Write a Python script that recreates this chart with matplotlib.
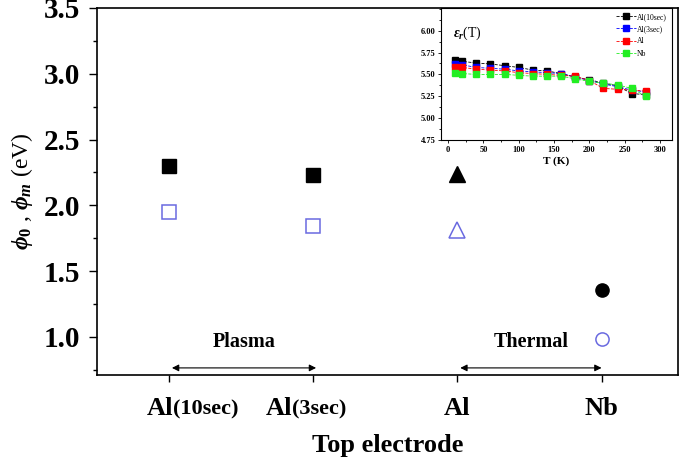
import matplotlib
matplotlib.use("Agg")
import matplotlib.pyplot as plt
from matplotlib.ticker import MultipleLocator

plt.rcParams["font.family"] = ["Liberation Serif", "DejaVu Serif"]
plt.rcParams["mathtext.fontset"] = "custom"
plt.rcParams["mathtext.rm"] = "Liberation Serif:bold"
plt.rcParams["mathtext.it"] = "Liberation Serif:italic:bold"
plt.rcParams["mathtext.bf"] = "Liberation Serif:bold"
plt.rcParams["mathtext.fallback"] = "stix"

# main panel: barrier heights per top electrode
electrodes = ["Al", "Al", "Al", "Nb"]
suffixes = ["(10sec)", "(3sec)", "", ""]
phi0 = [2.30, 2.23, 2.24, 1.36]
phim = [1.95, 1.84, 1.81, 0.98]
markers = ["s", "s", "^", "o"]

# inset: eps_r(T)
temps = [10, 20, 40, 60, 80, 100, 120, 140, 160, 180, 200, 220, 240, 260, 280]
eps_al10 = [5.66, 5.65, 5.63, 5.62, 5.60, 5.58, 5.55, 5.54, 5.51, 5.47, 5.44, 5.40, 5.37, 5.28, 5.27]
eps_al3 = [5.62, 5.61, 5.58, 5.57, 5.56, 5.54, 5.53, 5.52, 5.51, 5.47, 5.43, 5.39, 5.36, 5.32, 5.30]
eps_al = [5.59, 5.58, 5.56, 5.55, 5.54, 5.52, 5.51, 5.50, 5.49, 5.48, 5.43, 5.34, 5.33, 5.32, 5.31]
eps_nb = [5.52, 5.51, 5.50, 5.50, 5.50, 5.49, 5.48, 5.48, 5.48, 5.45, 5.42, 5.40, 5.38, 5.34, 5.25]
inset_series = [("Al(10sec)", eps_al10, "black"), ("Al(3sec)", eps_al3, "blue"),
                ("Al", eps_al, "red"), ("Nb", eps_nb, "#22ee22")]

fig = plt.figure(figsize=(6.8, 4.57), dpi=100)
ax = fig.add_axes([0.1426, 0.1794, 0.8544, 0.8031])

xs = range(1, len(electrodes) + 1)
for x, p0, pm, mk in zip(xs, phi0, phim, markers):
    ms = 11 if mk == "^" else 9.5
    ax.plot(x, p0, mk, ms=ms, color="black")
    ax.plot(x, pm, mk, ms=ms, mfc="white", mec="#6a6ae0", mew=1.1)

ax.set_xlim(0.5, 4.53)
ax.set_ylim(0.71, 3.5)
ax.yaxis.set_major_locator(MultipleLocator(0.5))
ax.yaxis.set_minor_locator(MultipleLocator(0.25))
ax.yaxis.set_major_formatter(matplotlib.ticker.FormatStrFormatter("%.1f"))
ax.set_xticks(list(xs))
ax.set_xticklabels([""] * len(electrodes))
ax.tick_params(axis="y", which="major", length=6, width=1, labelsize=21, pad=6)
ax.tick_params(axis="y", which="minor", length=3, width=1)
ax.tick_params(axis="x", length=5, width=1)
for lab in ax.get_yticklabels():
    lab.set_fontweight("bold")
for s in ax.spines.values():
    s.set_linewidth(1.2)

# two-size tick labels, e.g. "Al" + "(10sec)"
split_off = [3, -15, 0, 0]
for x, el, suf, off in zip(xs, electrodes, suffixes, split_off):
    if suf:
        ax.annotate(el, (x, 0), xycoords=("data", "axes fraction"),
                    xytext=(off, -16), textcoords="offset points",
                    ha="right", va="top", fontsize=19, fontweight="bold")
        ax.annotate(suf, (x, 0), xycoords=("data", "axes fraction"),
                    xytext=(off, -17.5), textcoords="offset points",
                    ha="left", va="top", fontsize=16, fontweight="bold")
    else:
        ax.annotate(el, (x, 0), xycoords=("data", "axes fraction"),
                    xytext=(0, -16), textcoords="offset points",
                    ha="center", va="top", fontsize=19, fontweight="bold")

ax.set_xlabel("Top electrode", fontsize=19, fontweight="bold", labelpad=34)
ax.set_ylabel(r"$\phi_0$ , $\phi_m$ (eV)", fontsize=17, labelpad=6)

# deposition groups
for (x0, x1), lab in [((1.02, 2.02), "Plasma"), ((3.02, 4.0), "Thermal")]:
    ax.annotate("", xy=(x1, 0.764), xytext=(x0, 0.764),
                arrowprops=dict(arrowstyle="<|-|>", color="black", lw=0.8,
                                mutation_scale=10, shrinkA=0, shrinkB=0))
    ax.text((x0 + x1) / 2, 0.96, lab, ha="center", va="center",
            fontsize=14.5, fontweight="bold")

# inset
ins = fig.add_axes([0.6485, 0.6937, 0.3397, 0.2888])
for lab, ys, col in inset_series:
    ins.plot(temps, ys, "--", color=col, lw=0.6, marker="s", ms=4,
             mfc=col, mec=col, label=lab)
ins.set_xlim(-10, 317)
ins.set_ylim(4.75, 6.26)
ins.set_xticks(range(0, 301, 50))
ins.set_yticks([4.75, 5.00, 5.25, 5.50, 5.75, 6.00])
ins.yaxis.set_major_formatter(matplotlib.ticker.FormatStrFormatter("%.2f"))
ins.yaxis.set_minor_locator(MultipleLocator(0.125))
ins.xaxis.set_minor_locator(MultipleLocator(25))
ins.tick_params(which="both", labelsize=6, length=2.5, width=0.6, pad=1.5)
ins.tick_params(which="minor", length=1.3)
for lab in ins.get_xticklabels() + ins.get_yticklabels():
    lab.set_fontweight("bold")
ins.set_xlabel("T (K)", fontsize=8, fontweight="bold", labelpad=2)
ins.text(0.05, 0.78, r"$\varepsilon_r$(T)", transform=ins.transAxes,
         fontsize=10, fontweight="normal")
ins.legend(loc="upper right", fontsize=5.5, frameon=False, handlelength=2.6,
           handletextpad=0.2, labelspacing=0.55, borderaxespad=0.25)
for s in ins.spines.values():
    s.set_linewidth(0.8)

fig.savefig("out.png", dpi=100)
